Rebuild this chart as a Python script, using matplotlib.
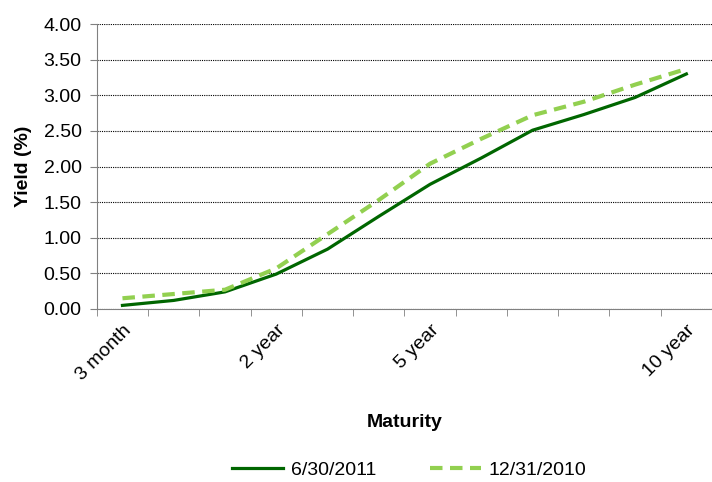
import matplotlib.pyplot as plt
import numpy as np

# Treasury yield curve data
maturities = ['3 month', '6 month', '1 year', '2 year', '3 year', '4 year',
              '5 year', '6 year', '7 year', '8 year', '9 year', '10 year']
tick_labels = ['3 month', '', '', '2 year', '', '', '5 year', '', '', '', '', '10 year']
yield_jun2011 = [0.05, 0.12, 0.24, 0.49, 0.84, 1.30, 1.75, 2.12, 2.51, 2.73, 2.97, 3.30]
yield_dec2010 = [0.15, 0.21, 0.27, 0.57, 1.05, 1.53, 2.04, 2.39, 2.72, 2.91, 3.15, 3.37]

plt.rcParams['font.family'] = ['Liberation Sans', 'DejaVu Sans']

fig = plt.figure(figsize=(7.12, 4.82), dpi=100)
ax = fig.add_axes([0.136, 0.359, 0.864, 0.591])

x = np.arange(len(maturities))
ax.plot(x, yield_jun2011, color='#006600', lw=2.3, label='6/30/2011')
ax.plot(x, yield_dec2010, color='#92D050', lw=3.0, dashes=(3, 1.8), label='12/31/2010')

# Axes limits and ticks
ax.set_xlim(-0.5, len(maturities) - 0.5)
ax.set_ylim(0, 4)
ax.set_yticks(np.arange(0, 4.01, 0.5))
ax.set_yticklabels([f'{v:.2f}' for v in np.arange(0, 4.01, 0.5)], fontsize=14)
ax.set_xticks(x)
ax.set_xticklabels(tick_labels, fontsize=14, rotation=45, ha='right',
                   rotation_mode='anchor')
ax.tick_params(axis='x', which='major', length=0, pad=9)
ax.set_xticks(np.arange(-0.5, len(maturities), 1), minor=True)
ax.tick_params(axis='x', which='minor', length=5, color='#808080')
ax.tick_params(axis='y', length=5, color='#808080', pad=6)

# Grid and spines
ax.grid(axis='y', color='black', linestyle=(0, (1, 1)), lw=0.8)
ax.set_axisbelow(True)
for side in ['top', 'right']:
    ax.spines[side].set_visible(False)
for side in ['left', 'bottom']:
    ax.spines[side].set_color('#808080')
ax.spines['bottom'].set_zorder(3)

ax.set_xlabel('Maturity', fontsize=14, fontweight='bold', labelpad=22)
ax.set_ylabel('Yield (%)', fontsize=14, fontweight='bold', labelpad=8)

fig.legend(loc='lower center', bbox_to_anchor=(0.575, -0.03), ncol=2,
           frameon=False, fontsize=14, handlelength=2.6, columnspacing=2.8,
           handletextpad=0.4)

fig.savefig('out.png', dpi=100)
